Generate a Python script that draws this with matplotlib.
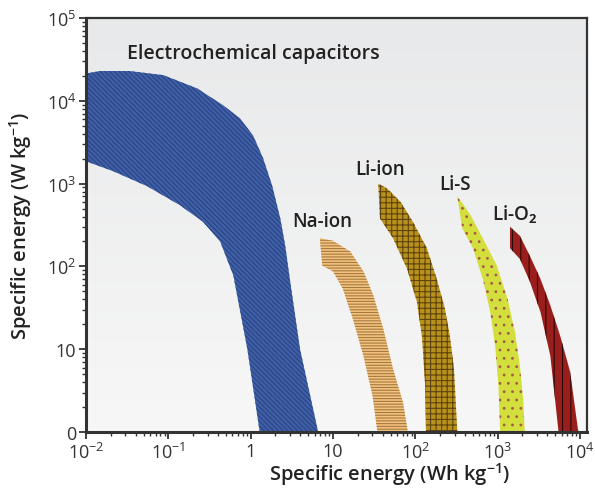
import numpy as np
import matplotlib
matplotlib.use("Agg")
import matplotlib.pyplot as plt
from matplotlib.ticker import LogLocator, NullFormatter

plt.rcParams['font.family'] = ['Open Sans', 'DejaVu Sans']
plt.rcParams['mathtext.fontset'] = 'custom'
plt.rcParams['mathtext.rm'] = 'Open Sans'
plt.rcParams['mathtext.bf'] = 'Open Sans:bold'
plt.rcParams['mathtext.default'] = 'regular'
plt.rcParams['hatch.linewidth'] = 0.8

# Region outlines as log10 values
# (x = specific energy in Wh/kg, y = specific power in W/kg)
cap_top_lx = [-2.0, -1.83, -1.47, -1.06, -0.65, -0.34, -0.13, 0.03, 0.15, 0.26, 0.36, 0.42, 0.48, 0.60, 0.82]
cap_top_ly = [4.33, 4.36, 4.36, 4.31, 4.15, 3.95, 3.79, 3.58, 3.31, 2.98, 2.58, 2.25, 1.82, 1.00, 0.0]
cap_low_lx = [-2.0, -1.67, -1.26, -0.86, -0.58, -0.37, -0.21, -0.04, 0.11]
cap_low_ly = [3.27, 3.15, 2.97, 2.74, 2.54, 2.30, 1.89, 1.00, 0.0]

na_top_lx = [0.84, 1.00, 1.21, 1.37, 1.49, 1.61, 1.73, 1.85, 1.91]
na_top_ly = [2.34, 2.31, 2.18, 1.94, 1.65, 1.25, 0.76, 0.36, 0.0]
na_low_lx = [0.87, 1.00, 1.12, 1.24, 1.37, 1.48, 1.54]
na_low_ly = [2.01, 1.94, 1.73, 1.37, 0.92, 0.44, 0.0]

li_top_lx = [1.55, 1.66, 1.82, 1.97, 2.14, 2.26, 2.36, 2.42, 2.47, 2.51]
li_top_ly = [3.00, 2.94, 2.78, 2.54, 2.22, 1.85, 1.49, 1.16, 0.76, 0.0]
li_low_lx = [1.57, 1.73, 1.90, 2.02, 2.08, 2.12, 2.13]
li_low_ly = [2.58, 2.34, 1.97, 1.57, 1.16, 0.56, 0.0]

lis_top_lx = [2.51, 2.67, 2.82, 2.99, 3.12, 3.21, 3.27, 3.31, 3.33]
lis_top_ly = [2.85, 2.62, 2.34, 2.01, 1.61, 1.21, 0.80, 0.40, 0.0]
lis_low_lx = [2.57, 2.70, 2.82, 2.91, 2.97, 3.01, 3.03]
lis_low_ly = [2.46, 2.22, 1.85, 1.45, 1.04, 0.56, 0.0]

lio_top_lx = [3.15, 3.27, 3.39, 3.52, 3.64, 3.76, 3.88, 3.98]
lio_top_ly = [2.48, 2.37, 2.13, 1.85, 1.53, 1.16, 0.73, 0.0]
lio_low_lx = [3.15, 3.27, 3.39, 3.52, 3.64, 3.74]
lio_low_ly = [2.22, 2.09, 1.82, 1.45, 0.92, 0.0]

x_ticks = [1e-2, 1e-1, 1, 10, 1e2, 1e3, 1e4]
x_labels = ['$10^{-2}$', '$10^{-1}$', '1', '10', '$10^{2}$', '$10^{3}$', '$10^{4}$']
y_ticks = [1, 10, 1e2, 1e3, 1e4, 1e5]
y_labels = ['0', '10', '$10^{2}$', '$10^{3}$', '$10^{4}$', '$10^{5}$']


def draw_region(ax, top_lx, top_ly, low_lx, low_ly, face, hcolor, hatch):
    xs = np.power(10.0, np.array(top_lx + low_lx[::-1]))
    ys = np.power(10.0, np.array(top_ly + low_ly[::-1]))
    ax.fill(xs, ys, facecolor=face, edgecolor='none', zorder=2)
    ax.fill(xs, ys, facecolor='none', edgecolor=hcolor, linewidth=0,
            hatch=hatch, zorder=3)


fig = plt.figure(figsize=(5.95, 4.89), dpi=100)
ax = fig.add_axes([0.1445, 0.1145, 0.842, 0.8466])
ax.set_xscale('log')
ax.set_yscale('log')

# light grey gradient background
grad = np.linspace(0, 1, 100).reshape(-1, 1)
ax.imshow(grad, extent=[0, 1, 0, 1], transform=ax.transAxes, aspect='auto',
          cmap=matplotlib.colors.LinearSegmentedColormap.from_list('bg', ['#f7f7f7', '#e8e9ea']),
          origin='lower', zorder=0)

draw_region(ax, cap_top_lx, cap_top_ly, cap_low_lx, cap_low_ly, '#3f60a8', '#2a4380', '\\' * 7)
draw_region(ax, na_top_lx, na_top_ly, na_low_lx, na_low_ly, '#f4c27c', '#a47a42', '-' * 6)
draw_region(ax, li_top_lx, li_top_ly, li_low_lx, li_low_ly, '#b8901c', '#5e440e', '+++')
draw_region(ax, lis_top_lx, lis_top_ly, lis_low_lx, lis_low_ly, '#d2df3c', '#a8584a', '..')
draw_region(ax, lio_top_lx, lio_top_ly, lio_low_lx, lio_low_ly, '#9a1f1c', '#2a0a08', '||')

ax.set_xlim(1e-2, 10 ** 4.085)
ax.set_ylim(1, 1e5)

lab = dict(fontweight='semibold', color='#222222', va='center')
ax.text(10 ** -1.50, 10 ** 4.58, 'Electrochemical capacitors', ha='left', fontsize=14, **lab)
ax.text(10 ** 0.867, 10 ** 2.55, 'Na-ion', ha='center', fontsize=13.5, **lab)
ax.text(10 ** 1.57, 10 ** 3.18, 'Li-ion', ha='center', fontsize=13.5, **lab)
ax.text(10 ** 2.48, 10 ** 2.99, 'Li-S', ha='center', fontsize=13.5, **lab)
ax.text(10 ** 3.21, 10 ** 2.63, r'Li-O$_{\mathbf{2}}$', ha='center', fontsize=13.5, **lab)

ax.set_xticks(x_ticks, labels=x_labels)
ax.set_yticks(y_ticks, labels=y_labels)
ax.xaxis.set_minor_locator(LogLocator(base=10, subs=np.arange(2, 10), numticks=20))
ax.yaxis.set_minor_locator(LogLocator(base=10, subs=np.arange(2, 10), numticks=20))
ax.xaxis.set_minor_formatter(NullFormatter())
ax.yaxis.set_minor_formatter(NullFormatter())
ax.tick_params(which='major', direction='out', length=5, width=1.3, color='#333333',
               labelsize=13, labelcolor='#333333', top=False, right=False, pad=2)
ax.tick_params(which='minor', direction='out', length=3, width=1.0, color='#333333',
               top=False, right=False)

for s in ax.spines.values():
    s.set_color('#333333')
    s.set_linewidth(1.6)
    s.set_zorder(5)
ax.spines['left'].set_linewidth(2.2)
ax.spines['bottom'].set_linewidth(2.2)

ax.set_xlabel('Specific energy (Wh kg$^{-1}$)', fontsize=14.5, fontweight='semibold', color='#222222')
ax.set_ylabel('Specific energy (W kg$^{-1}$)', fontsize=14.5, fontweight='semibold', color='#222222')
ax.xaxis.set_label_coords(0.607, -0.1)
ax.xaxis.label.set_va('center')
ax.yaxis.set_label_coords(-0.13, 0.5)
ax.yaxis.label.set_va('center')

fig.savefig('out.png', dpi=100)
